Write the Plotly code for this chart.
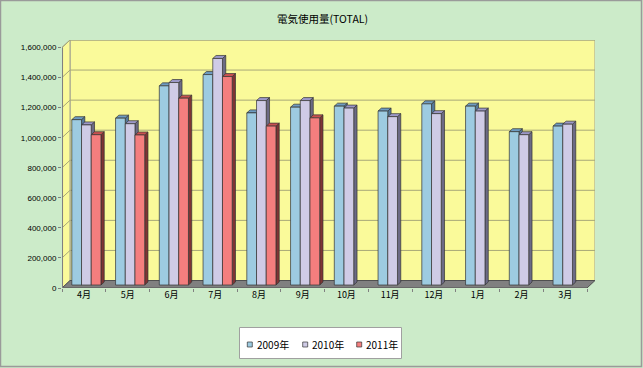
import plotly.graph_objects as go

# ---------------- data ----------------
months = ["4月", "5月", "6月", "7月", "8月", "9月", "10月", "11月", "12月", "1月", "2月", "3月"]
series_names = ["2009年", "2010年", "2011年"]
v2009 = [1100000, 1110000, 1325000, 1400000, 1145000, 1183000, 1190000, 1157000, 1205000, 1190000, 1020000, 1057000]
v2010 = [1065000, 1073000, 1347000, 1507000, 1227000, 1227000, 1177000, 1120000, 1140000, 1157000, 1000000, 1070000]
v2011 = [1000000, 998000, 1243000, 1387000, 1057000, 1112000, None, None, None, None, None, None]
y_ticks = [0, 200000, 400000, 600000, 800000, 1000000, 1200000, 1400000, 1600000]
title_text = "電気使用量(TOTAL)"

# ---------------- styling ----------------
front_cols = ["#9DCBE1", "#CFCBE6", "#F47E7E"]
top_cols = ["#6E9CC2", "#9C98C8", "#C85050"]
side_cols = ["#557A9C", "#6C6A85", "#7F3434"]
edge = "#333333"
bg = "#CCEBC9"
wall = "#FAFA9A"
grid_col = "#A8A878"
CJK = "Noto Sans CJK JP"

W, H = 643, 368
ML, MT = 62, 40
PW, PH = 533, 248
n = len(months)
XU = n / 525.0            # data units per px (x)
YU = 1600000 / 240.5      # data units per px (y)
XMAX = PW * XU
YMAX = PH * YU
FDX, FDY = 8 * XU, 7.5 * YU     # floor depth
SDX, SDY = 2.5 * XU, 3 * YU     # bar depth position
BDX, BDY = 3.3 * XU, 3 * YU     # bar depth
BW = 0.222
G0 = 0.167


def px(x):
    return (x - ML) / PW


def py(y):
    return 1 - (y - MT) / PH


fig = go.Figure()
shapes = []
annotations = []

# walls
shapes.append(dict(type="rect", xref="x", yref="y", x0=FDX, y0=FDY, x1=XMAX, y1=YMAX,
                   fillcolor=wall, line=dict(color="#A0A090", width=1), layer="below"))
shapes.append(dict(type="path", xref="x", yref="y",
                   path=f"M 0 0 L {FDX} {FDY} L {FDX} {YMAX} L 0 {1600000} Z",
                   fillcolor=wall, line=dict(color="#A0A090", width=1), layer="below"))

# gridlines on walls
gx, gy = [], []
for v in y_ticks[1:]:
    gx += [0, FDX, XMAX, None]
    gy += [v, v + FDY, v + FDY, None]
fig.add_trace(go.Scatter(x=gx, y=gy, mode="lines", line=dict(color=grid_col, width=1),
                         hoverinfo="skip", showlegend=False))

# floor
fig.add_trace(go.Scatter(x=[0, n, n + FDX, XMAX, FDX, 0], y=[0, 0, FDY, FDY, FDY, 0],
                         mode="lines", fill="toself", fillcolor="#808080",
                         line=dict(color="#505050", width=1), hoverinfo="skip", showlegend=False))

# bars
all_vals = [v2009, v2010, v2011]
for s, vals in enumerate(all_vals):
    fx, fy, sx, sy, tx, ty = [], [], [], [], [], []
    for i, v in enumerate(vals):
        if v is None:
            continue
        x0 = i + G0 + s * BW + SDX
        x1 = x0 + BW
        y0 = SDY
        y1 = v + SDY
        fx += [x0, x1, x1, x0, x0, None]
        fy += [y0, y0, y1, y1, y0, None]
        sx += [x1, x1 + BDX, x1 + BDX, x1, x1, None]
        sy += [y0, y0 + BDY, y1 + BDY, y1, y0, None]
        tx += [x0, x0 + BDX, x1 + BDX, x1, x0, None]
        ty += [y1, y1 + BDY, y1 + BDY, y1, y1, None]
    fig.add_trace(go.Scatter(x=sx, y=sy, mode="lines", fill="toself", fillcolor=side_cols[s],
                             line=dict(color=edge, width=0.7), hoverinfo="skip", showlegend=False))
    fig.add_trace(go.Scatter(x=tx, y=ty, mode="lines", fill="toself", fillcolor=top_cols[s],
                             line=dict(color=edge, width=0.7), hoverinfo="skip", showlegend=False))
    fig.add_trace(go.Scatter(x=fx, y=fy, mode="lines", fill="toself", fillcolor=front_cols[s],
                             line=dict(color=edge, width=0.7), name=series_names[s],
                             hoverinfo="skip", showlegend=False))

# y axis line (front)
shapes.append(dict(type="line", xref="x", yref="y", x0=0.01, y0=0, x1=0.01, y1=1600000,
                   line=dict(color="#808080", width=1.2)))

# outer border
shapes.append(dict(type="rect", xref="paper", yref="paper", x0=px(0.5), y0=py(366.5),
                   x1=px(641.5), y1=py(0.5), line=dict(color="#9A9A9A", width=1.5)))

# legend (manual)
shapes.append(dict(type="rect", xref="paper", yref="paper", x0=px(239.5), y0=py(358.5),
                   x1=px(401.5), y1=py(327.5), fillcolor="white", line=dict(color="#A0A0A0", width=1)))
leg_sq = [247.3, 302.7, 356.7]
for s in range(3):
    shapes.append(dict(type="rect", xref="paper", yref="paper", x0=px(leg_sq[s]), y0=py(347),
                       x1=px(leg_sq[s] + 5), y1=py(342), fillcolor=front_cols[s],
                       line=dict(color=edge, width=0.7)))
    annotations.append(dict(text=series_names[s], xref="paper", yref="paper",
                            x=px(leg_sq[s] + 7.5), y=py(344.5), xanchor="left", yanchor="middle",
                            showarrow=False, font=dict(family=CJK, size=10, color="#000")))

# title
annotations.append(dict(text=title_text, xref="paper", yref="paper", x=px(322), y=py(18),
                        xanchor="center", yanchor="middle", showarrow=False,
                        font=dict(family=CJK, size=10.5, color="#000")))

fig.update_layout(
    width=W, height=H,
    margin=dict(l=ML, r=W - ML - PW, t=MT, b=H - MT - PH),
    paper_bgcolor=bg, plot_bgcolor=bg,
    showlegend=False,
    shapes=shapes, annotations=annotations,
    xaxis=dict(range=[0, XMAX], tickmode="array", tickvals=[i + 0.5 for i in range(n)],
               ticktext=months, showgrid=False, zeroline=False, showline=False, ticks="",
               tickfont=dict(family=CJK, size=9, color="#000"),
               minor=dict(tickmode="array", tickvals=list(range(n + 1)), ticks="outside",
                          ticklen=3, tickcolor="#808080", showgrid=False),
               fixedrange=True),
    yaxis=dict(range=[0, YMAX], tickmode="array", tickvals=y_ticks,
               ticktext=[f"{v:,}" for v in y_ticks], showgrid=False, zeroline=False,
               showline=False, ticks="outside", ticklen=3, tickcolor="#808080",
               tickfont=dict(family="Liberation Sans Narrow, Liberation Sans, Arial", size=8, color="#000"),
               fixedrange=True),
)

fig.write_html("out.html", config={"displayModeBar": False},
               post_script="document.body.style.margin='0';document.body.style.overflow='hidden';")
